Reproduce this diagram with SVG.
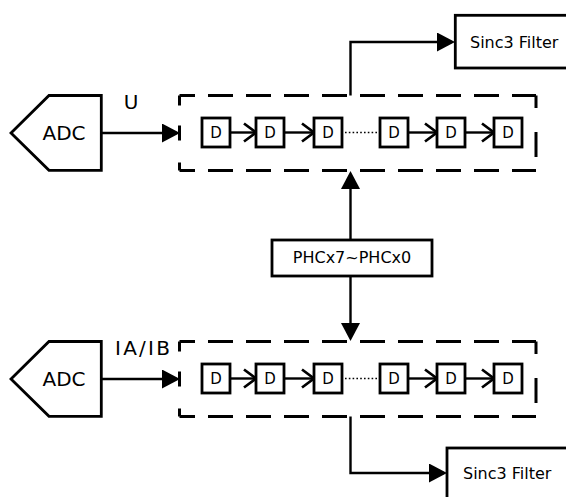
<svg xmlns="http://www.w3.org/2000/svg" width="566" height="497" viewBox="0 0 566 497">
<style>
.blk{fill:#fff;stroke:#000;stroke-width:2.8}
.dbox{fill:#fff;stroke:#000;stroke-width:2.8}
.ln{fill:none;stroke:#000;stroke-width:2.4}
.dash{fill:none;stroke:#000;stroke-width:3}
.t{font-family:"DejaVu Sans","Liberation Sans",sans-serif;fill:#000}
</style>
<defs>
<marker id="fa" markerUnits="userSpaceOnUse" markerWidth="20" markerHeight="20" refX="15" refY="9.5" orient="auto">
<path d="M0,0 L18,9.5 L0,19 Z" fill="#000"/>
</marker>
<marker id="ch" markerUnits="userSpaceOnUse" markerWidth="18" markerHeight="22" refX="13.5" refY="10.5" orient="auto">
<path d="M1.5,1.5 L13.5,10.5 L1.5,19.5" fill="none" stroke="#000" stroke-width="2.7"/>
</marker>
</defs>
<rect width="566" height="497" fill="#fff"/>

<g id="connectors">
<path class="ln" d="M101.3,133 H177" marker-end="url(#fa)"/>
<path class="ln" d="M101.3,379 H177" marker-end="url(#fa)"/>
<path class="ln" d="M350.5,95.5 V42 H452" marker-end="url(#fa)"/>
<path class="ln" d="M350.5,240 V174" marker-end="url(#fa)"/>
<path class="ln" d="M350.5,276 V338" marker-end="url(#fa)"/>
<path class="ln" d="M350.5,416.5 V473 H444" marker-end="url(#fa)"/>
<path class="ln" d="M230,132.5 H256" marker-end="url(#ch)"/>
<path class="ln" d="M284,132.5 H314" marker-end="url(#ch)"/>
<path class="ln" d="M408,132.5 H437" marker-end="url(#ch)"/>
<path class="ln" d="M465,132.5 H494" marker-end="url(#ch)"/>
<path d="M345,132.5 H379" fill="none" stroke="#000" stroke-width="1.6" stroke-dasharray="1.6 2.2"/>
<path class="ln" d="M230,378.5 H256" marker-end="url(#ch)"/>
<path class="ln" d="M284,378.5 H314" marker-end="url(#ch)"/>
<path class="ln" d="M408,378.5 H437" marker-end="url(#ch)"/>
<path class="ln" d="M465,378.5 H494" marker-end="url(#ch)"/>
<path d="M345,378.5 H379" fill="none" stroke="#000" stroke-width="1.6" stroke-dasharray="1.6 2.2"/>
</g>

<g id="adc-u">
<path class="blk" d="M11,133 L49,95.5 H101.3 V170.3 H49 Z"/>
<text class="t" x="64" y="140" font-size="20" text-anchor="middle">ADC</text>
</g>
<text id="label-u" class="t" x="131" y="109" font-size="20" text-anchor="middle">U</text>

<g id="adc-i">
<path class="blk" d="M11,379 L49,341.5 H101.3 V416.3 H49 Z"/>
<text class="t" x="64" y="386" font-size="20" text-anchor="middle">ADC</text>
</g>
<text id="label-iaib" class="t" x="115" y="355" font-size="20" textLength="55" lengthAdjust="spacing">IA/IB</text>

<g id="group-u">
<path class="dash" d="M179.5,95.5 H536" stroke-dasharray="25 13" stroke-dashoffset="9.5"/>
<path class="dash" d="M536,95.5 V170.5" stroke-dasharray="12.5 24 25 100"/>
<path class="dash" d="M179.5,170.5 H536" stroke-dasharray="25 13" stroke-dashoffset="9.5"/>
<path class="dash" d="M179.5,95.5 V170.5" stroke-dasharray="10 20 15 22 10"/>
</g>
<g id="group-i">
<path class="dash" d="M179.5,341.5 H536" stroke-dasharray="25 13" stroke-dashoffset="9.5"/>
<path class="dash" d="M536,341.5 V416.5" stroke-dasharray="12.5 24 25 100"/>
<path class="dash" d="M179.5,416.5 H536" stroke-dasharray="25 13" stroke-dashoffset="9.5"/>
<path class="dash" d="M179.5,341.5 V416.5" stroke-dasharray="10 20 15 22 10"/>
</g>

<g id="d-u1"><rect class="dbox" x="202" y="118" width="28" height="29"/><text class="t" x="216" y="138" font-size="15" text-anchor="middle">D</text></g>
<g id="d-u2"><rect class="dbox" x="256" y="118" width="28" height="29"/><text class="t" x="270" y="138" font-size="15" text-anchor="middle">D</text></g>
<g id="d-u3"><rect class="dbox" x="314" y="118" width="28" height="29"/><text class="t" x="328" y="138" font-size="15" text-anchor="middle">D</text></g>
<g id="d-u4"><rect class="dbox" x="380" y="118" width="28" height="29"/><text class="t" x="394" y="138" font-size="15" text-anchor="middle">D</text></g>
<g id="d-u5"><rect class="dbox" x="437" y="118" width="28" height="29"/><text class="t" x="451" y="138" font-size="15" text-anchor="middle">D</text></g>
<g id="d-u6"><rect class="dbox" x="494" y="118" width="28" height="29"/><text class="t" x="508" y="138" font-size="15" text-anchor="middle">D</text></g>

<g id="d-i1"><rect class="dbox" x="202" y="364" width="28" height="29"/><text class="t" x="216" y="384" font-size="15" text-anchor="middle">D</text></g>
<g id="d-i2"><rect class="dbox" x="256" y="364" width="28" height="29"/><text class="t" x="270" y="384" font-size="15" text-anchor="middle">D</text></g>
<g id="d-i3"><rect class="dbox" x="314" y="364" width="28" height="29"/><text class="t" x="328" y="384" font-size="15" text-anchor="middle">D</text></g>
<g id="d-i4"><rect class="dbox" x="380" y="364" width="28" height="29"/><text class="t" x="394" y="384" font-size="15" text-anchor="middle">D</text></g>
<g id="d-i5"><rect class="dbox" x="437" y="364" width="28" height="29"/><text class="t" x="451" y="384" font-size="15" text-anchor="middle">D</text></g>
<g id="d-i6"><rect class="dbox" x="494" y="364" width="28" height="29"/><text class="t" x="508" y="384" font-size="15" text-anchor="middle">D</text></g>

<g id="phc">
<rect class="blk" x="272" y="240" width="160" height="36" stroke-width="2.5"/>
<text class="t" x="352" y="263" font-size="16" text-anchor="middle">PHCx7~PHCx0</text>
</g>

<g id="sinc-u">
<rect class="blk" x="455.3" y="15.3" width="140" height="52.7"/>
<text class="t" x="470" y="47.5" font-size="16">Sinc3 Filter</text>
</g>
<g id="sinc-i">
<rect class="blk" x="447" y="448" width="140" height="60"/>
<text class="t" x="463" y="479" font-size="16">Sinc3 Filter</text>
</g>
</svg>
